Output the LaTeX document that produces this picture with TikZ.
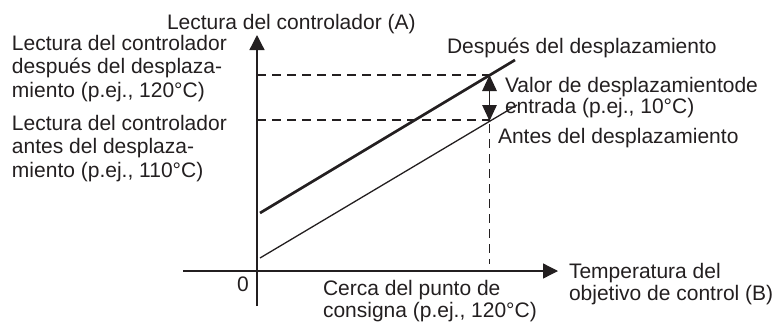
\documentclass[tikz,border=0pt]{standalone}
\usepackage{fontspec}
\setmainfont{Liberation Sans}
\usetikzlibrary{arrows.meta}
\definecolor{ink}{RGB}{35,31,32}
\newcommand\lstrut{\rule{0pt}{17pt}}
\begin{document}
\begin{tikzpicture}[x=1pt,y=-1pt,
  txt/.style={inner sep=0pt, outer sep=0pt, anchor=north west, align=left, text=ink,
              font=\fontsize{21}{23.5}\selectfont},
  axisline/.style={draw=ink, line width=1.3pt, -{Triangle[length=15pt,width=15pt]}},
  dashline/.style={draw=ink, line width=1.1pt, dash pattern=on 9pt off 6pt},
  thickline/.style={draw=ink, line width=2.7pt},
  thinline/.style={draw=ink, line width=1.3pt},
  dimarrow/.style={draw=ink, line width=1.2pt,
     {Triangle[length=16pt,width=14.5pt]}-{Triangle[length=16pt,width=14.5pt]}}]
\useasboundingbox (0,0) rectangle (776,322);

% axes
\coordinate (ybot) at (257,306);
\coordinate (ytop) at (257,35);
\coordinate (xl) at (183,271);
\coordinate (xr) at (558,271);
\draw[axisline] (ybot) -- (ytop);
\draw[axisline] (xl) -- (xr);

% characteristic lines
\coordinate (a1) at (260,213);
\coordinate (a2) at (515,60);
\coordinate (b1) at (260,258);
\coordinate (b2) at (517,105);
\draw[thickline] (a1) -- (a2);
\draw[thinline] (b1) -- (b2);

% dashed guides
\coordinate (hu0) at (257,75);
\coordinate (hu1) at (489.5,75);
\coordinate (hl0) at (257,120);
\coordinate (hl1) at (489.5,120);
\coordinate (v0) at (489.5,124);
\coordinate (v1) at (489.5,264);
\draw[dashline] (hu0) -- (hu1);
\draw[dashline] (hl0) -- (hl1);
\draw[dashline] (v0) -- (v1);

% offset dimension arrow
\coordinate (d0) at (489.5,75);
\coordinate (d1) at (489.5,121);
\draw[dimarrow] (d0) -- (d1);

% texts
\node[txt] (ylab) at (167,12) {\lstrut Lectura del controlador (A)};
\node[txt] (rafter) at (12,33) {\lstrut Lectura del controlador\\después del desplaza-\\miento (p.ej., 120°C)};
\node[txt] (rbefore) at (12,113) {\lstrut Lectura del controlador\\antes del desplaza-\\miento (p.ej., 110°C)};
\node[txt] (lafter) at (447,36) {\lstrut Después del desplazamiento};
\node[txt, font=\fontsize{21}{21}\selectfont] (offset) at (505,75) {\lstrut Valor de desplazamientode\\entrada (p.ej., 10°C)};
\node[txt] (lbefore) at (498,126) {\lstrut Antes del desplazamiento};
\node[txt, font=\fontsize{21}{22.5}\selectfont] (xlab) at (569,261) {\lstrut Temperatura del\\objetivo de control (B)};
\node[txt, font=\fontsize{21}{22}\selectfont] (sp) at (323,278) {\lstrut Cerca del punto de\\consigna (p.ej., 120°C)};
\node[inner sep=0pt, anchor=base, text=ink, font=\fontsize{21}{23.5}\selectfont] (zero) at (243,291) {0};
\end{tikzpicture}
\end{document}
